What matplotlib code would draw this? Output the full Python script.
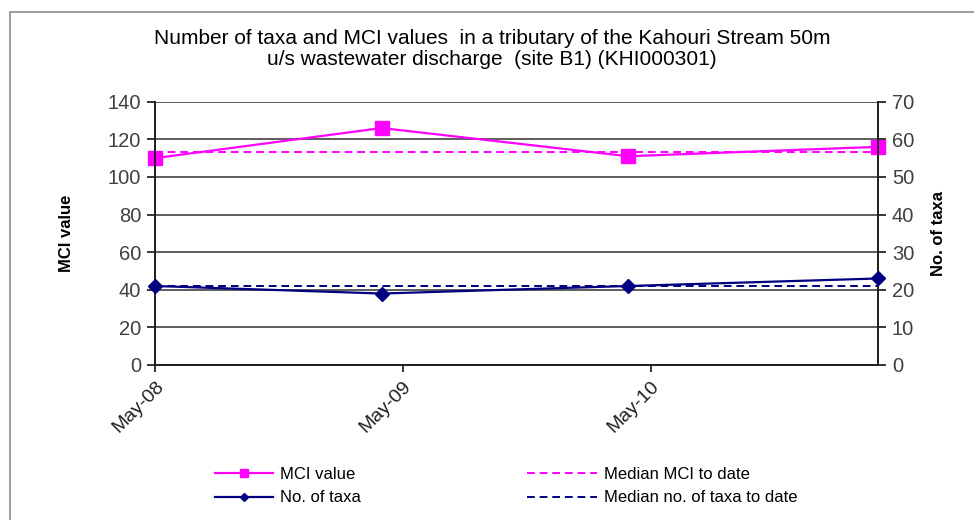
import numpy as np
import pandas as pd
import matplotlib
matplotlib.use("Agg")
import matplotlib.pyplot as plt
import matplotlib.dates as mdates
from matplotlib.patches import Rectangle

# data
dates = pd.to_datetime(["2008-05-01", "2009-03-31", "2010-03-29", "2011-04-01"])
mci_values = [110, 126, 111, 116]
taxa_counts = [21, 19, 21, 23]
median_mci = 113.5
median_taxa = 21
tick_dates = pd.to_datetime(["2008-05-01", "2009-05-01", "2010-05-01"])

plt.rcParams['font.family'] = ['Liberation Sans', 'DejaVu Sans']

fig = plt.figure(figsize=(9.74, 5.2), dpi=100)
# chart border
fig.patches.append(Rectangle((10 / 974, -0.1), 1.2, 1.1 - 12 / 520, transform=fig.transFigure,
                             fill=False, edgecolor="#8c8c8c", linewidth=1.2))

ax = fig.add_axes([155 / 974, 1 - 365 / 520, (878 - 155) / 974, (365 - 101.7) / 520])
ax2 = ax.twinx()

ax.plot(dates, mci_values, color="#ff00ff", marker="s", markersize=10, linewidth=1.6, label="MCI value",
        zorder=5, clip_on=False)
ax.plot([dates[0], dates[-1]], [median_mci, median_mci], color="#ff00ff", linestyle="--", linewidth=1.4,
        dashes=(4, 2.5), label="Median MCI to date")
ax2.plot(dates, taxa_counts, color="#000080", marker="D", markersize=7, linewidth=1.6, label="No. of taxa",
         zorder=5, clip_on=False)
ax2.plot([dates[0], dates[-1]], [median_taxa, median_taxa], color="#000080", linestyle="--", linewidth=1.4,
         dashes=(4, 2.5), label="Median no. of taxa to date")

ax.set_xlim(dates[0], dates[-1])
ax.set_ylim(0, 140)
ax2.set_ylim(0, 70)
ax.set_yticks(np.arange(0, 141, 20))
ax2.set_yticks(np.arange(0, 71, 10))
ax.yaxis.grid(True, color="#303030", linewidth=1.1)
ax.set_axisbelow(True)

ax.set_xticks(tick_dates)
ax.xaxis.set_major_formatter(mdates.DateFormatter("%b-%y"))
plt.setp(ax.get_xticklabels(), rotation=45, ha="right", rotation_mode="anchor", fontsize=14)

for a in (ax, ax2):
    a.spines["top"].set_visible(False)
    for s in ("left", "right", "bottom"):
        a.spines[s].set_color("#202020")
        a.spines[s].set_linewidth(1.3)
    a.tick_params(axis="y", labelsize=14.5, labelcolor="#404040", direction="out", length=6, width=1.1, pad=4)
ax.tick_params(axis="x", direction="out", length=5, width=1.1, labelcolor="#202020", pad=4)

ax.set_ylabel("MCI value", fontsize=12, fontweight="bold", labelpad=24)
ax2.set_ylabel("No. of taxa", fontsize=12, fontweight="bold", labelpad=12)

fig.text(0.505, 0.906, "Number of taxa and MCI values  in a tributary of the Kahouri Stream 50m\n"
         "u/s wastewater discharge  (site B1) (KHI000301)", ha="center", va="center",
         fontsize=15, linespacing=1.1)

l_mci, l_mmed = ax.get_lines()
l_tax, l_tmed = ax2.get_lines()
leg1 = fig.legend([l_mci, l_tax], [l_mci.get_label(), l_tax.get_label()], loc="upper left",
                  bbox_to_anchor=(215 / 974, 1 - 467 / 520), frameon=False, fontsize=12,
                  handlelength=3.5, handletextpad=0.4, labelspacing=0.5, markerscale=0.55,
                  borderpad=0, borderaxespad=0)
leg2 = fig.legend([l_mmed, l_tmed], [l_mmed.get_label(), l_tmed.get_label()], loc="upper left",
                  bbox_to_anchor=(527 / 974, 1 - 467 / 520), frameon=False, fontsize=12,
                  handlelength=4.2, handletextpad=0.4, labelspacing=0.5,
                  borderpad=0, borderaxespad=0)

fig.savefig("out.png", dpi=100, facecolor="white")
